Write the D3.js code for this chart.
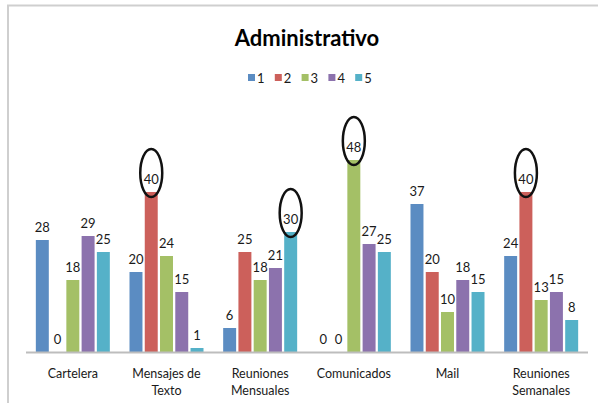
<!DOCTYPE html>
<html>
<head>
<meta charset="utf-8">
<script src="https://cdn.jsdelivr.net/npm/d3@7"></script>
<style>
  body { margin: 0; background: #fff; }
  svg { display: block; font-family: Lato, "Open Sans", sans-serif; }
  .lbl { font-size: 13px; fill: #1a1a1a; }
  .cat { font-size: 12.5px; fill: #1a1a1a; }
</style>
</head>
<body>
<svg width="598" height="403"></svg>
<script>
const categories = ['Cartelera', 'Mensajes de Texto', 'Reuniones Mensuales', 'Comunicados', 'Mail', 'Reuniones Semanales'];
const catLines = [['Cartelera'], ['Mensajes de', 'Texto'], ['Reuniones', 'Mensuales'], ['Comunicados'], ['Mail'], ['Reuniones', 'Semanales']];
const seriesNames = ['1', '2', '3', '4', '5'];
const s1 = [28, 20, 6, 0, 37, 24];
const s2 = [0, 40, 25, 0, 20, 40];
const s3 = [18, 24, 18, 48, 10, 13];
const s4 = [29, 15, 21, 27, 18, 15];
const s5 = [25, 1, 30, 25, 15, 8];
const colors = ['#5b8cc2', '#cc605b', '#a4c066', '#8c72ad', '#55b1c8'];
// circled values: [category index, series index]
const highlights = [[1, 1], [2, 4], [3, 2], [5, 1]];

const series = [s1, s2, s3, s4, s5];
const data = categories.map((c, i) => ({cat: c, i: i, vals: series.map((s, k) => ({k: k, v: s[i], i: i}))}));

const svg = d3.select('svg');

// chart frame
svg.append('rect')
  .attr('x', 8).attr('y', 5.5)
  .attr('width', 640).attr('height', 450)
  .attr('fill', 'none')
  .attr('stroke', '#cfcfcf')
  .attr('stroke-width', 2);

const x0 = d3.scaleBand().domain(categories).range([26, 588]).paddingInner(0.21).paddingOuter(0.105);
const x1 = d3.scaleBand().domain(d3.range(5)).range([0, x0.bandwidth()]).paddingInner(0.15);
const y = d3.scaleLinear().domain([0, 50]).range([352, 152]);

// title
svg.append('text')
  .attr('x', 307).attr('y', 46)
  .attr('text-anchor', 'middle')
  .style('font-size', '22px').style('font-weight', 'bold').style('fill', '#000')
  .text('Administrativo');

// legend
const leg = svg.append('g').attr('transform', 'translate(248,78)');
const li = leg.selectAll('g').data(seriesNames).enter().append('g')
  .attr('transform', (d, i) => `translate(${i * 26.8},0)`);
li.append('rect').attr('x', 0).attr('y', -4).attr('width', 7).attr('height', 7).attr('fill', (d, i) => colors[i]);
li.append('text').attr('x', 9).attr('y', 4.5).style('font-size', '13px').style('fill', '#1a1a1a').text(d => d);

// bars
const g = svg.append('g');
const groups = g.selectAll('.grp').data(data).enter().append('g')
  .attr('class', 'grp')
  .attr('transform', d => `translate(${x0(d.cat)},0)`);

groups.selectAll('rect').data(d => d.vals).enter().append('rect')
  .attr('x', d => x1(d.k))
  .attr('y', d => y(d.v))
  .attr('width', x1.bandwidth())
  .attr('height', d => y(0) - y(d.v))
  .attr('fill', d => colors[d.k]);

groups.selectAll('.lbl').data(d => d.vals).enter().append('text')
  .attr('class', 'lbl')
  .attr('x', d => x1(d.k) + x1.bandwidth() / 2)
  .attr('y', d => y(d.v) - 8)
  .attr('text-anchor', 'middle')
  .text(d => d.v);

// axis line
svg.append('line')
  .attr('x1', 26).attr('x2', 588)
  .attr('y1', y(0) + 0.5).attr('y2', y(0) + 0.5)
  .attr('stroke', '#bdbdbd').attr('stroke-width', 2);

// category labels
const cl = svg.selectAll('.cat').data(categories).enter().append('text')
  .attr('class', 'cat')
  .attr('x', d => x0(d) + x0.bandwidth() / 2)
  .attr('y', 378)
  .attr('text-anchor', 'middle');
cl.selectAll('tspan').data((d, i) => catLines[i]).enter().append('tspan')
  .attr('x', function () { return this.parentNode.getAttribute('x'); })
  .attr('dy', (d, i) => i === 0 ? 0 : 17)
  .text(d => d);

// ellipses around highlighted values
svg.selectAll('.hl').data(highlights).enter().append('ellipse')
  .attr('class', 'hl')
  .attr('cx', d => x0(categories[d[0]]) + x1(d[1]) + x1.bandwidth() / 2)
  .attr('cy', d => y(series[d[1]][d[0]]) - 19)
  .attr('rx', 11).attr('ry', 24)
  .attr('fill', 'none')
  .attr('stroke', '#111')
  .attr('stroke-width', 2.5);
</script>
</body>
</html>
